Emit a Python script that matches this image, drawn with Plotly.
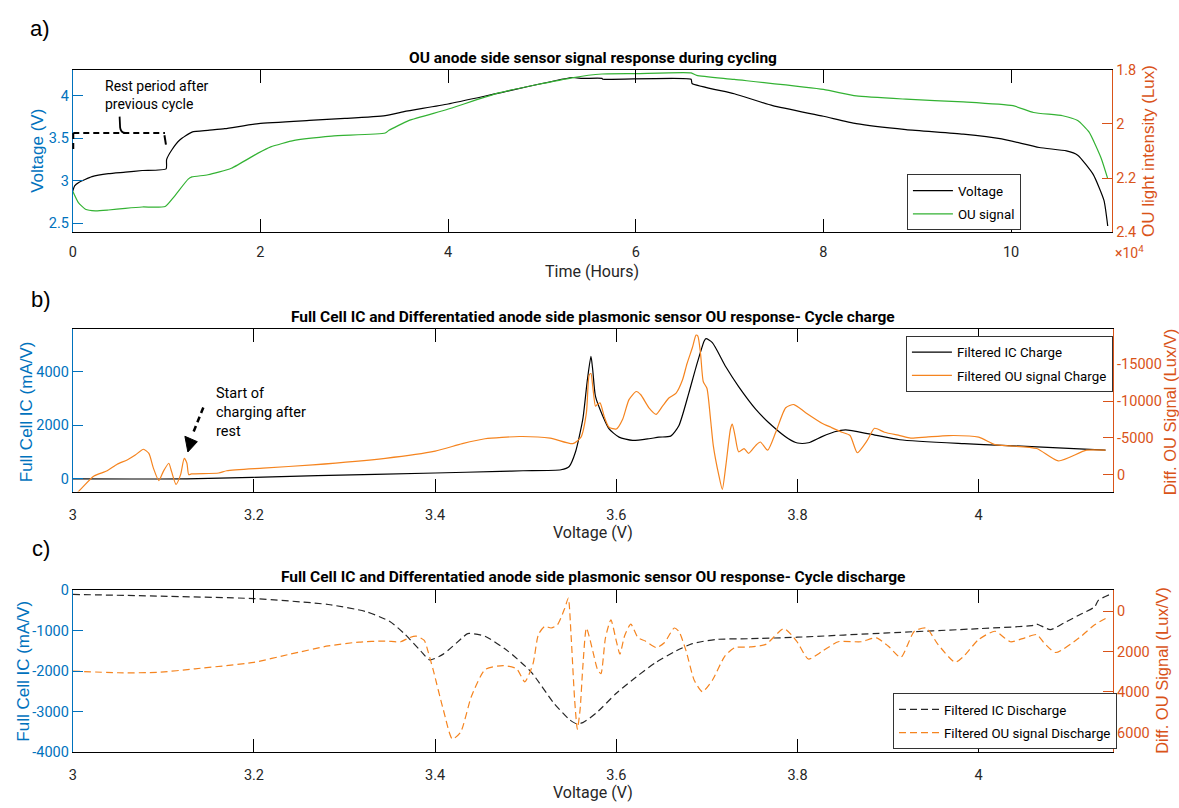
import plotly.graph_objects as go

W, H = 1179, 808

# ---------------- data ----------------
# Panel a: cycling (time in hours)
a_v_hours = [0, 0.02, 0.064, 0.205, 0.38, 0.56, 0.74, 0.995, 1.0, 1.055,
             1.14, 1.27, 1.44, 1.62, 1.98, 2.52, 2.9, 3.33, 3.53, 4.0,
             4.55, 5.32, 5.43, 5.64, 5.65, 6.59, 6.6, 7.05, 7.46, 8.0,
             8.35, 8.88, 9.49, 9.9, 10.3, 10.59, 10.71, 10.875, 10.99, 11.03]
a_voltage = [2.88, 2.94, 2.98, 3.048, 3.083, 3.10, 3.12, 3.14, 3.247, 3.36,
             3.477, 3.57, 3.59, 3.61, 3.67, 3.707, 3.73, 3.764, 3.81, 3.90,
             4.03, 4.21, 4.20, 4.20, 4.19, 4.19, 4.14, 4.02, 3.88, 3.756,
             3.67, 3.60, 3.546, 3.49, 3.39, 3.35, 3.30, 3.075, 2.77, 2.47]
a_ou_hours = [0, 0.06, 0.135, 0.24, 0.38, 0.56, 0.74, 0.985, 1.07, 1.23,
              1.27, 1.44, 1.69, 1.97, 2.11, 2.36, 2.76, 3.33, 3.37, 3.58,
              3.98, 4.55, 5.32, 5.64, 6.0, 6.59, 6.65, 7.05, 8.0, 8.35,
              8.88, 9.49, 10.02, 10.24, 10.55, 10.71, 10.83, 10.96, 11.03]
a_ou_lux_e4 = [2.249, 2.291, 2.315, 2.321, 2.318, 2.312, 2.307, 2.305, 2.273, 2.204,
               2.196, 2.188, 2.164, 2.109, 2.085, 2.061, 2.045, 2.034, 2.024, 1.988,
               1.948, 1.885, 1.83, 1.816, 1.8146, 1.812, 1.821, 1.836, 1.873, 1.897,
               1.909, 1.919, 1.933, 1.958, 1.97, 1.988, 2.03, 2.127, 2.2025]

# Panel b: charge
b_ic_volt = [3.0, 3.126, 3.27, 3.40, 3.472, 3.497, 3.539, 3.548, 3.555, 3.563,
             3.568, 3.572, 3.574, 3.577, 3.585, 3.592, 3.603, 3.618, 3.636, 3.647,
             3.660, 3.669, 3.680, 3.688, 3.697, 3.699, 3.706, 3.721, 3.735, 3.754,
             3.772, 3.790, 3.80, 3.812, 3.827, 3.841, 3.853, 3.879, 3.913, 3.984,
             4.026, 4.14]
b_ic = [0, 0, 120, 220, 280, 304, 340, 464, 1013, 2230,
        3690, 4580, 4060, 3080, 2350, 1865, 1560, 1437, 1500, 1560,
        1597, 1985, 3205, 4180, 5155, 5240, 5094, 4180, 3450, 2600,
        1985, 1500, 1340, 1350, 1580, 1760, 1828, 1682, 1462, 1316,
        1255, 1073]
b_ou_volt = [3.0, 3.005, 3.023, 3.038, 3.049, 3.06, 3.069, 3.078, 3.084, 3.089,
             3.095, 3.10, 3.106, 3.109, 3.114, 3.119, 3.123, 3.126, 3.128, 3.131,
             3.161, 3.17, 3.21, 3.265, 3.345, 3.40, 3.43, 3.455, 3.493, 3.527,
             3.552, 3.561, 3.567, 3.570, 3.572, 3.574, 3.577, 3.579, 3.582, 3.587,
             3.592, 3.60, 3.607, 3.614, 3.622, 3.627, 3.636, 3.644, 3.651, 3.658,
             3.666, 3.673, 3.678, 3.684, 3.688, 3.690, 3.693, 3.696, 3.700, 3.704,
             3.707, 3.713, 3.717, 3.721, 3.726, 3.728, 3.731, 3.735, 3.741, 3.746,
             3.754, 3.759, 3.767, 3.776, 3.787, 3.796, 3.809, 3.827, 3.837, 3.849,
             3.858, 3.866, 3.877, 3.885, 3.896, 3.913, 3.925, 3.942, 3.967, 4.0,
             4.018, 4.035, 4.064, 4.088, 4.119, 4.14]
b_ou = [2700, 2434, 213, -532, -1423, -1995, -2660, -3458, -2886, -891,
        798, -452, -1556, -452, 1330, 0, -2221, -1556, 0, -100,
        -226, -532, -891, -1330, -2221, -3192, -4216, -4881, -5187, -4974,
        -4216, -5107, -8432, -13526, -13752, -11970, -9310, -9536, -9762, -7767,
        -6437, -6211, -7541, -10201, -11305, -10866, -9097, -8206, -9310, -10427,
        -11092, -12861, -15082, -17290, -18979, -18846, -16412, -12635, -11757, -7541,
        -3990, 0, 1995, -1330, -6211, -6876, -5320, -3112, -3551, -2886,
        -3990, -4442, -3325, -5772, -9097, -9536, -8432, -7000, -6437, -5772,
        -5320, -2979, -4655, -6304, -5772, -5320, -4974, -5107, -5320, -5107,
        -4083, -3910, -3551, -1862, -3325, -3325]

# Panel c: discharge
c_ic_volt = [3.0, 3.093, 3.20, 3.282, 3.324, 3.35, 3.367, 3.384, 3.394, 3.409,
             3.43, 3.436, 3.455, 3.48, 3.506, 3.531, 3.548, 3.556, 3.563, 3.578,
             3.60, 3.622, 3.644, 3.666, 3.684, 3.71, 3.746, 3.80, 3.90, 4.0,
             4.06, 4.064, 4.079, 4.094, 4.111, 4.128, 4.132, 4.144]
c_ic = [-104, -145, -208, -353, -532, -774, -1096, -1500, -1725, -1580,
        -1176, -1072, -1137, -1500, -2023, -2790, -3194, -3300, -3274, -3032,
        -2548, -2144, -1781, -1500, -1321, -1217, -1200, -1162, -1055, -951,
        -871, -837, -975, -813, -612, -411, -250, -113]
c_ou_volt = [3.0, 3.05, 3.093, 3.135, 3.20, 3.24, 3.282, 3.316, 3.345, 3.362,
             3.371, 3.379, 3.388, 3.392, 3.398, 3.409, 3.419, 3.428, 3.44, 3.455,
             3.475, 3.49, 3.499, 3.508, 3.514, 3.521, 3.528, 3.535, 3.543, 3.547,
             3.55, 3.554, 3.557, 3.560, 3.563, 3.567, 3.574, 3.579, 3.583, 3.588,
             3.594, 3.60, 3.604, 3.609, 3.616, 3.624, 3.632, 3.644, 3.653, 3.664,
             3.669, 3.677, 3.686, 3.695, 3.706, 3.720, 3.731, 3.748, 3.765, 3.785,
             3.799, 3.812, 3.828, 3.845, 3.870, 3.887, 3.90, 3.914, 3.929, 3.942,
             3.955, 3.974, 3.984, 4.0, 4.018, 4.035, 4.051, 4.064, 4.072, 4.085,
             4.111, 4.128, 4.144]
c_ou = [2968, 3050, 3033, 2856, 2533, 2130, 1726, 1533, 1484, 1517,
        1323, 1242, 1452, 1969, 2936, 4872, 6324, 6000, 4227, 2900,
        2694, 2856, 3500, 2614, 1162, 759, 839, 678, -129, -645,
        1162, 4390, 5842, 4874, 2775, 839, 1968, 2856, 3098, 1323,
        436, 1484, 2130, 1242, 646, 1323, 1484, 1807, 1565, 839,
        1000, 1968, 3420, 3985, 3420, 2210, 1807, 1775, 1646, 871,
        1484, 2372, 1968, 1517, 1517, 1323, 1726, 2291, 1000, 839,
        1646, 2533, 2210, 1404, 1000, 1517, 1323, 1162, 1565, 2050,
        1323, 678, 274]

# tick labels
a_xticks = [0, 2, 4, 6, 8, 10]
a_yticks = [2.5, 3, 3.5, 4]
a_y2ticks = [1.8, 2, 2.2, 2.4]
v_xticks = [3, 3.2, 3.4, 3.6, 3.8, 4]
b_yticks = [0, 2000, 4000]
b_y2ticks = [-15000, -10000, -5000, 0]
c_yticks = [0, -1000, -2000, -3000, -4000]
c_y2ticks = [0, 2000, 4000, 6000]

# ---------------- styling ----------------
BLUE = "#0072BD"
ORANGE_AX = "#D95319"
ORANGE = "#F5841F"
GREEN = "#33B233"
HFONT = "Roboto, Liberation Sans, Arial, sans-serif"
VFONT = "Liberation Sans, Arial, sans-serif"


def px(x):
    return x / W


def py(y):
    return 1 - y / H


def fmt(v):
    return "%g" % v


xa_dom = [px(69), px(1112)]
xb_dom = [px(69), px(1113)]
ya_dom = [py(229), py(63)]
yb_dom = [py(494), py(328.3)]
yc_dom = [py(760), py(594.3)]


def xax(dom, anchor, rng, vals, standoff):
    return dict(domain=dom, anchor=anchor, range=rng, tickvals=vals,
                ticktext=[fmt(v) for v in vals], ticks="inside", ticklen=13,
                tickcolor="black", showline=True, linecolor="black", linewidth=1,
                mirror="ticks", showgrid=False, zeroline=False,
                ticklabelstandoff=standoff,
                tickfont=dict(family=HFONT, size=14.5, color="#262626"))


def yax(dom, anchor, rng, vals, color, side="left", overlay=None):
    d = dict(anchor=anchor, range=rng, tickvals=vals,
             ticktext=[fmt(v) for v in vals], ticks="inside", ticklen=10,
             tickcolor=color, showline=True, linecolor=color, linewidth=1,
             showgrid=False, zeroline=False, side=side,
             tickfont=dict(family=HFONT, size=14.5, color=color))
    if overlay:
        d["overlaying"] = overlay
    else:
        d["domain"] = dom
    return d


fig = go.Figure()

# panel a
fig.add_trace(go.Scatter(x=a_v_hours, y=a_voltage, mode="lines", name="Voltage",
                         line=dict(color="black", width=1.2, shape="spline", smoothing=0.5),
                         xaxis="x", yaxis="y", legend="legend", legendgroup="a1"))
fig.add_trace(go.Scatter(x=a_ou_hours, y=a_ou_lux_e4, mode="lines", name="OU signal",
                         line=dict(color=GREEN, width=1.2, shape="spline", smoothing=0.5),
                         xaxis="x", yaxis="y2", legend="legend", legendgroup="a2"))
# panel b
fig.add_trace(go.Scatter(x=b_ic_volt, y=b_ic, mode="lines", name="Filtered IC Charge",
                         line=dict(color="black", width=1.2, shape="spline", smoothing=0.6),
                         xaxis="x2", yaxis="y3", legend="legend2", legendgroup="b1"))
fig.add_trace(go.Scatter(x=b_ou_volt, y=b_ou, mode="lines", name="Filtered OU signal Charge",
                         line=dict(color=ORANGE, width=1.2, shape="spline", smoothing=0.6),
                         xaxis="x2", yaxis="y4", legend="legend2", legendgroup="b2"))
# panel c
fig.add_trace(go.Scatter(x=c_ic_volt, y=c_ic, mode="lines", name="Filtered IC Discharge",
                         line=dict(color="#262626", width=1.2, dash="7px,4px", shape="spline", smoothing=0.6),
                         xaxis="x3", yaxis="y5", legend="legend3", legendgroup="c1"))
fig.add_trace(go.Scatter(x=c_ou_volt, y=c_ou, mode="lines", name="Filtered OU signal Discharge",
                         line=dict(color=ORANGE, width=1.2, dash="7px,4px", shape="spline", smoothing=0.6),
                         xaxis="x3", yaxis="y6", legend="legend3", legendgroup="c2"))

legend_common = dict(xanchor="left", yanchor="top", bgcolor="white",
                     bordercolor="#333333", borderwidth=1,
                     font=dict(family=HFONT, size=13.3, color="black"),
                     itemwidth=40, tracegroupgap=3)

shapes = []
dash_line = dict(color="black", width=2, dash="6px,4px")
# bracket for rest period
shapes.append(dict(type="line", xref="paper", yref="paper", x0=px(69.5), y0=py(127.7), x1=px(161.5), y1=py(127.7), line=dash_line))
shapes.append(dict(type="line", xref="paper", yref="paper", x0=px(69.5), y0=py(127.7), x1=px(69.5), y1=py(145), line=dash_line))
shapes.append(dict(type="line", xref="paper", yref="paper", x0=px(161), y0=py(130), x1=px(162.5), y1=py(139.5), line=dict(color="black", width=2)))
shapes.append(dict(type="path", xref="paper", yref="paper",
                   path="M %f %f L %f %f Q %f %f %f %f" % (px(116), py(111), px(116.5), py(122),
                                                          px(117), py(127.5), px(122), py(127.7)),
                   line=dict(color="black", width=1.8)))
# arrow for start of charging
shapes.append(dict(type="line", xref="paper", yref="paper", x0=px(200), y0=py(408), x1=px(189), y1=py(436), line=dict(color="black", width=2.5, dash="6px,4px")))
shapes.append(dict(type="path", xref="paper", yref="paper",
                   path="M %f %f L %f %f L %f %f Z" % (px(181.5), py(437.5), px(194), py(443), px(184.5), py(453.5)),
                   fillcolor="black", line=dict(color="black", width=1)))

annotations = []


def note(text, x, y, font, xanchor="center", angle=0, align="center"):
    annotations.append(dict(text=text, x=px(x), y=py(y), xref="paper", yref="paper",
                            showarrow=False, font=font, xanchor=xanchor, yanchor="middle",
                            textangle=angle, align=align))


title_font = dict(family=HFONT, size=15.5, color="black", weight="bold")
note("<b>OU anode side sensor signal response during cycling</b>", 591, 51, title_font)
note("<b>Full Cell IC and Differentatied anode side plasmonic sensor OU response- Cycle charge</b>", 591, 316, title_font)
note("<b>Full Cell IC and Differentatied anode side plasmonic sensor OU response- Cycle discharge</b>", 591, 581, title_font)

panel_font = dict(family=VFONT, size=22, color="black")
note("a)", 36, 21, panel_font)
note("b)", 37, 298, panel_font)
note("c)", 37, 552, panel_font)

xt_font = dict(family=HFONT, size=16, color="#262626")
note("Time (Hours)", 590, 269, xt_font)
note("Voltage (V)", 591, 536, xt_font)
note("Voltage (V)", 591, 801, xt_font)

blue_t = dict(family=VFONT, size=17, color=BLUE)
orange_t = dict(family=VFONT, size=17, color=ORANGE_AX)
note("Voltage (V)", 34, 146, blue_t, angle=-90)
note("OU light intensity (Lux)", 1149, 146, orange_t, angle=-90)
note("Full Cell IC (mA/V)", 22, 412, blue_t, angle=-90)
note("Diff. OU Signal (Lux/V)", 1170, 413, dict(family=VFONT, size=16.5, color=ORANGE_AX), angle=-90)
note("Full Cell IC (mA/V)", 20, 677, blue_t, angle=-90)
note("Diff. OU Signal (Lux/V)", 1162, 677, dict(family=VFONT, size=16.5, color=ORANGE_AX), angle=-90)

note("×10<sup>4</sup>", 1129, 249, dict(family=HFONT, size=14, color=ORANGE_AX))
note("Rest period after<br>previous cycle", 99, 88.5, dict(family=HFONT, size=14, color="black"),
     xanchor="left", align="left")
note("Start of<br>charging after<br>rest", 211, 413, dict(family=HFONT, size=14.5, color="black"),
     xanchor="left", align="left")

fig.update_layout(
    width=W, height=H,
    margin=dict(l=0, r=0, t=0, b=0),
    paper_bgcolor="white", plot_bgcolor="white",
    xaxis=xax(xa_dom, "y", [0, 11.078], a_xticks, 6),
    yaxis=yax(ya_dom, "x", [2.397, 4.302], a_yticks, BLUE),
    yaxis2=yax(None, "x", [2.4, 1.8], a_y2ticks, ORANGE_AX, side="right", overlay="y"),
    xaxis2=xax(xb_dom, "y3", [3, 4.1485], v_xticks, 10),
    yaxis3=yax(yb_dom, "x2", [-476, 5588], b_yticks, BLUE),
    yaxis4=yax(None, "x2", [2303, -19752], b_y2ticks, ORANGE_AX, side="right", overlay="y3"),
    xaxis3=xax(xb_dom, "y5", [3, 4.1485], v_xticks, 10),
    yaxis5=yax(yc_dom, "x3", [-4000, 10], c_yticks, BLUE),
    yaxis6=yax(None, "x3", [6967, -1050], c_y2ticks, ORANGE_AX, side="right", overlay="y5"),
    legend=dict(x=px(906), y=py(170), **legend_common),
    legend2=dict(x=px(905), y=py(335), **legend_common),
    legend3=dict(x=px(892), y=py(700), **legend_common),
    shapes=shapes,
    annotations=annotations,
    showlegend=True,
)

fig.write_html("out.html")
